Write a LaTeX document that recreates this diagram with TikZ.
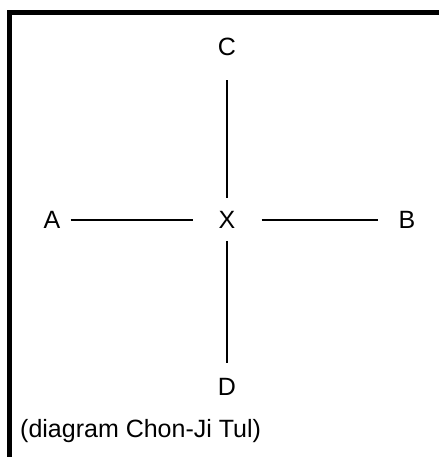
\documentclass[tikz,border=0pt]{standalone}
\usepackage{fontspec}
\setmainfont{Liberation Sans}
\begin{document}
\begin{tikzpicture}[x=1pt,y=-1pt,
  lbl/.style={font=\fontsize{25}{28}\selectfont, inner sep=0pt},
  conn/.style={line width=2pt}]
\useasboundingbox (0,0) rectangle (439,457);
\draw[line width=5pt] (9.5,457) -- (9.5,12.5) -- (439,12.5);
\node[lbl] (C) at (227,47) {C};
\node[lbl] (X) at (227,220) {X};
\node[lbl] (A) at (52,220) {A};
\node[lbl] (B) at (407,220) {B};
\node[lbl] (D) at (227,387) {D};
\node[lbl, anchor=west] (cap) at (20,431) {(diagram Chon-Ji Tul)};
\draw[conn, shorten <=24pt, shorten >=13pt] (C) -- (X);
\draw[conn, shorten <=12pt, shorten >=15pt] (X) -- (D);
\draw[conn, shorten <=10pt, shorten >=25pt] (A) -- (X);
\draw[conn, shorten <=26pt, shorten >=20pt] (X) -- (B);
\end{tikzpicture}
\end{document}
